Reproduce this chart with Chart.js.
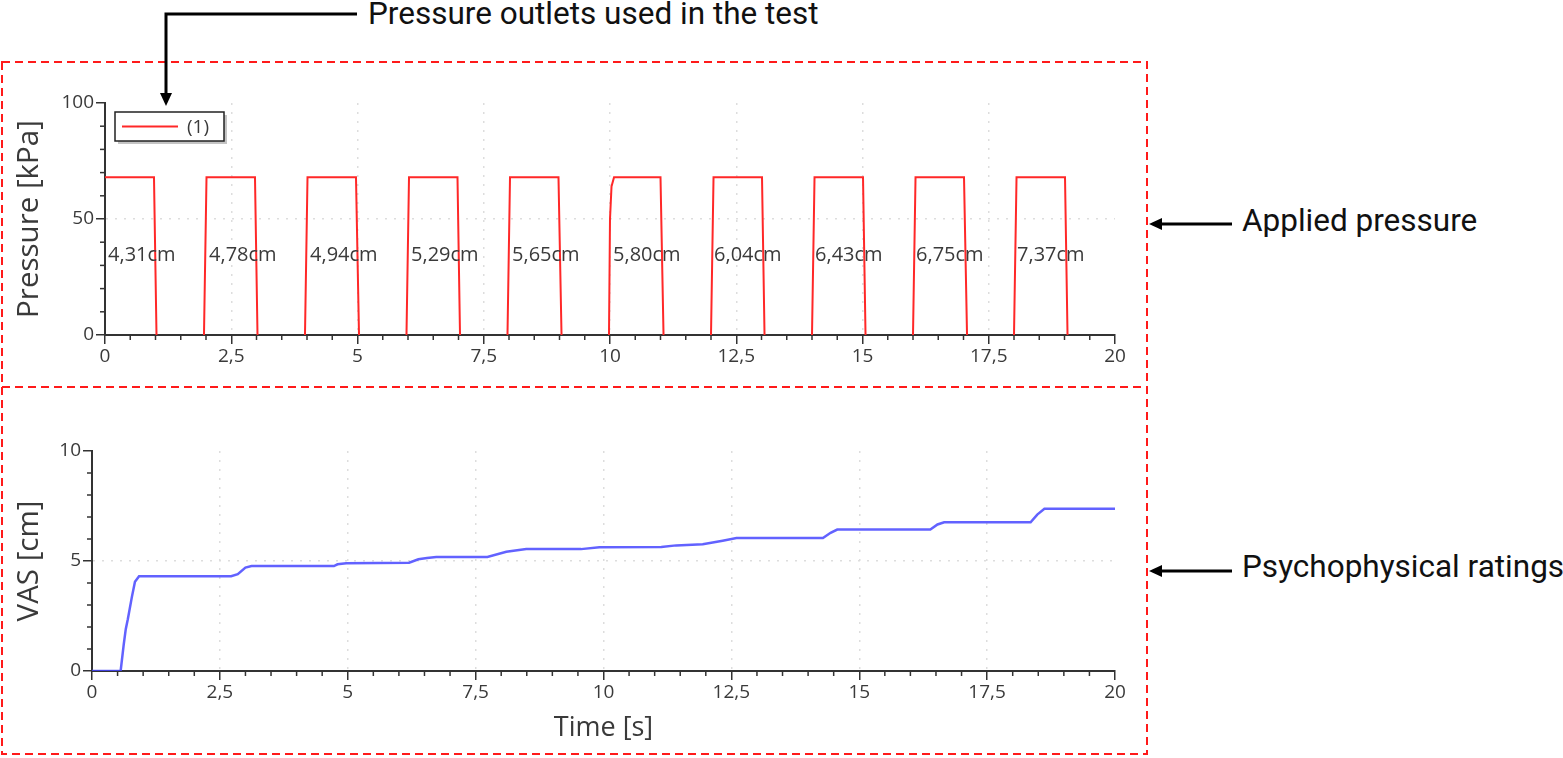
<!DOCTYPE html>
<html>
<head>
<meta charset="utf-8">
<script src="https://cdn.jsdelivr.net/npm/chart.js@4.4.1/dist/chart.umd.min.js"></script>
<style>
  html, body { margin: 0; padding: 0; background: #fff; }
  #page { position: relative; width: 1563px; height: 758px; overflow: hidden; }
  .wrap { position: absolute; }
  .note { position: absolute; font-family: Roboto, "Noto Sans", sans-serif; font-size: 31.5px; line-height: 31.5px; color: #111; white-space: nowrap; }
  svg { position: absolute; left: 0; top: 0; pointer-events: none; }
</style>
</head>
<body>
<div id="page">
  <div class="wrap" style="left:0;top:80px;"><canvas id="pressureChart" width="1145" height="300"></canvas></div>
  <div class="wrap" style="left:0;top:400px;"><canvas id="vasChart" width="1145" height="350"></canvas></div>

  <div class="note" style="left:368px;top:-2px;">Pressure outlets used in the test</div>
  <div class="note" style="left:1242px;top:205px;">Applied pressure</div>
  <div class="note" style="left:1242px;top:551px;">Psychophysical ratings</div>

  <svg width="1563" height="758">
    <g fill="none" stroke="#ff1a1a" stroke-width="2" stroke-dasharray="8,5">
      <rect x="2" y="62" width="1145" height="692"/>
      <line x1="2" y1="387" x2="1147" y2="387"/>
    </g>
    <g stroke="#000" stroke-width="3" fill="none">
      <polyline points="357,14 166,14 166,96"/>
      <line x1="1232" y1="224" x2="1160" y2="224"/>
      <line x1="1232" y1="571" x2="1160" y2="571"/>
    </g>
    <g fill="#000">
      <polygon points="166,106 160,93 172,93"/>
      <polygon points="1149,224 1162,218 1162,230"/>
      <polygon points="1149,571 1162,565 1162,577"/>
    </g>
  </svg>
</div>

<script>
// ------------------- DATA -------------------
// top panel: pressure outlet (1), kPa over time (null = not drawn, line rests on the axis)
const pressureTime = [
    0, 0.97, 1.02, 1.5,
    1.96, 2.01, 2.97, 3.02, 3.5,
    3.96, 4.01, 4.97, 5.03, 5.5,
    5.97, 6.02, 6.98, 7.03, 7.5,
    7.97, 8.02, 8.98, 9.04, 9.5,
    9.98, 10.0, 10.03, 10.08, 11.0, 11.06, 11.5,
    12.0, 12.05, 13.01, 13.06, 13.5,
    14.0, 14.05, 15.01, 15.06, 15.5,
    16.0, 16.05, 17.01, 17.07, 17.5,
    18.0, 18.05, 19.01, 19.06
];
const pressureKPa = [
    68, 68, 0, null,
    0, 68, 68, 0, null,
    0, 68, 68, 0, null,
    0, 68, 68, 0, null,
    0, 68, 68, 0, null,
    0, 50, 64, 68, 68, 0, null,
    0, 68, 68, 0, null,
    0, 68, 68, 0, null,
    0, 68, 68, 0, null,
    0, 68, 68, 0
];

// pulse start times and the VAS rating written in each pulse
const pulseStart = [0, 2, 4, 6, 8, 10, 12, 14, 16, 18];
const pulseLabels = ['4,31cm', '4,78cm', '4,94cm', '5,29cm', '5,65cm', '5,80cm', '6,04cm', '6,43cm', '6,75cm', '7,37cm'];

// bottom panel: VAS rating (cm) over time
const vasTime = [
    0, 0.56, 0.62, 0.66, 0.70, 0.78, 0.84, 0.92,
    2.72, 2.85, 3.00, 3.12,
    4.73, 4.80, 4.97,
    6.20, 6.38, 6.55, 6.73,
    7.73, 8.10, 8.49,
    9.56, 9.92,
    11.13, 11.42, 11.94, 12.33, 12.60,
    14.29, 14.44, 14.57,
    16.39, 16.53, 16.66,
    18.35, 18.48, 18.62, 20.0
];
const vasCm = [
    0, 0, 1.2, 1.9, 2.35, 3.37, 4.06, 4.31,
    4.31, 4.40, 4.70, 4.77,
    4.77, 4.85, 4.90,
    4.92, 5.08, 5.14, 5.18,
    5.18, 5.42, 5.54,
    5.54, 5.63,
    5.64, 5.71, 5.76, 5.92, 6.04,
    6.04, 6.28, 6.43,
    6.43, 6.66, 6.76,
    6.76, 7.11, 7.37, 7.37
];

const seriesLabel = '(1)';

// ------------------- HELPERS -------------------
const FONT = '"Open Sans", "DejaVu Sans", sans-serif';
const TEXT = '#3a3a3a';
const AXIS = '#333';
const GRID = '#dddddd';

const near = (v, step) => Math.abs(v / step - Math.round(v / step)) < 1e-6;
const comma = v => String(v).replace('.', ',');

function xScale(heightPx, withTitle) {
    return {
        type: 'linear', min: 0, max: 20,
        majorStep: 2.5,
        ticks: {
            stepSize: 0.5, autoSkip: false, maxRotation: 0, maxTicksLimit: 100,
            padding: 1, color: TEXT, font: { family: FONT, size: 19 },
            callback: v => near(v, 2.5) ? comma(v) : ''
        },
        grid: {
            color: c => (c.tick && near(c.tick.value, 2.5) && c.tick.value > 0 && c.tick.value < 20) ? GRID : 'rgba(0,0,0,0)',
            tickColor: c => (c.tick && near(c.tick.value, 2.5)) ? AXIS : 'rgba(0,0,0,0)',
            lineWidth: 1.5, tickLength: 9, tickWidth: 1.5
        },
        border: { color: AXIS, width: 2, dash: [2, 7] },
        title: withTitle ? {
            display: true, text: 'Time [s]', color: TEXT,
            font: { family: FONT, size: 27 }, padding: { top: 0, bottom: 5 }
        } : { display: false },
        afterFit: s => { s.height = heightPx; }
    };
}

function yScale(max, step, major, title, widthPx) {
    return {
        type: 'linear', min: 0, max: max,
        majorStep: major,
        ticks: {
            stepSize: step, autoSkip: false, maxTicksLimit: 100,
            padding: 2, color: TEXT, font: { family: FONT, size: 19 },
            callback: v => near(v, major) ? comma(v) : ''
        },
        grid: {
            color: c => (c.tick && near(c.tick.value, major) && c.tick.value > 0 && c.tick.value < max) ? GRID : 'rgba(0,0,0,0)',
            tickColor: c => (c.tick && near(c.tick.value, major)) ? AXIS : 'rgba(0,0,0,0)',
            lineWidth: 1.5, tickLength: 9, tickWidth: 1.5
        },
        border: { color: AXIS, width: 2, dash: [2, 7] },
        title: {
            display: true, text: title, color: TEXT,
            font: { family: FONT, size: 29.5 }, padding: { top: 12, bottom: 0 }
        },
        afterFit: s => { s.width = widthPx; }
    };
}

// ------------------- PLUGINS -------------------
// short tick marks for the minor steps
const minorTicks = {
    id: 'minorTicks',
    afterDraw(chart) {
        const { ctx, chartArea } = chart;
        ctx.save();
        ctx.strokeStyle = AXIS;
        ctx.lineWidth = 1.5;
        ['x', 'y'].forEach(id => {
            const s = chart.scales[id];
            s.ticks.forEach(t => {
                if (near(t.value, s.options.majorStep)) return;
                const p = s.getPixelForValue(t.value);
                ctx.beginPath();
                if (id === 'x') { ctx.moveTo(p, chartArea.bottom); ctx.lineTo(p, chartArea.bottom + 5); }
                else { ctx.moveTo(chartArea.left, p); ctx.lineTo(chartArea.left - 5, p); }
                ctx.stroke();
            });
        });
        ctx.restore();
    }
};

const pulseText = {
    id: 'pulseText',
    afterDatasetsDraw(chart) {
        const { ctx, scales } = chart;
        ctx.save();
        ctx.font = '20px ' + FONT;
        ctx.fillStyle = '#3a3a3a';
        ctx.textAlign = 'left';
        ctx.textBaseline = 'middle';
        pulseStart.forEach((t, i) => {
            ctx.fillText(pulseLabels[i], scales.x.getPixelForValue(t + 0.06), scales.y.getPixelForValue(34.5));
        });
        ctx.restore();
    }
};

const boxLegend = {
    id: 'boxLegend',
    afterDraw(chart) {
        const { ctx, chartArea } = chart;
        const ds = chart.data.datasets[0];
        const x = chartArea.left + 10, y = chartArea.top + 9, w = 109, h = 29;
        ctx.save();
        ctx.fillStyle = '#c4c4c4';
        ctx.fillRect(x + 3, y + 3, w, h);
        ctx.fillStyle = '#fff';
        ctx.fillRect(x, y, w, h);
        ctx.strokeStyle = '#222';
        ctx.lineWidth = 1.5;
        ctx.strokeRect(x, y, w, h);
        ctx.strokeStyle = ds.borderColor;
        ctx.lineWidth = 2;
        ctx.beginPath();
        ctx.moveTo(x + 7, y + h / 2);
        ctx.lineTo(x + 63, y + h / 2);
        ctx.stroke();
        ctx.fillStyle = TEXT;
        ctx.font = '19px ' + FONT;
        ctx.textBaseline = 'middle';
        ctx.fillText(ds.label, x + 72, y + h / 2 + 1);
        ctx.restore();
    }
};

// ------------------- CHARTS -------------------
new Chart(document.getElementById('pressureChart'), {
    type: 'line',
    data: {
        datasets: [{
            label: seriesLabel,
            data: pressureTime.map((t, i) => ({ x: t, y: pressureKPa[i] })),
            borderColor: 'rgb(255,40,40)',
            borderWidth: 2,
            pointRadius: 0,
            tension: 0,
            spanGaps: false
        }]
    },
    options: {
        responsive: false,
        animation: false,
        layout: { autoPadding: false, padding: { left: 0, top: 23, right: 30, bottom: 0 } },
        plugins: { legend: { display: false }, tooltip: { enabled: false } },
        scales: {
            x: xScale(45, false),
            y: yScale(100, 10, 50, 'Pressure [kPa]', 105)
        }
    },
    plugins: [minorTicks, pulseText, boxLegend]
});

new Chart(document.getElementById('vasChart'), {
    type: 'line',
    data: {
        datasets: [{
            label: 'VAS',
            data: vasTime.map((t, i) => ({ x: t, y: vasCm[i] })),
            borderColor: 'rgba(70,70,255,0.85)',
            borderWidth: 2.5,
            pointRadius: 0,
            tension: 0
        }]
    },
    options: {
        responsive: false,
        animation: false,
        layout: { autoPadding: false, padding: { left: 0, top: 51, right: 30, bottom: 0 } },
        plugins: { legend: { display: false }, tooltip: { enabled: false } },
        scales: {
            x: xScale(79, true),
            y: yScale(10, 1, 5, 'VAS [cm]', 92)
        }
    },
    plugins: [minorTicks]
});
</script>
</body>
</html>
